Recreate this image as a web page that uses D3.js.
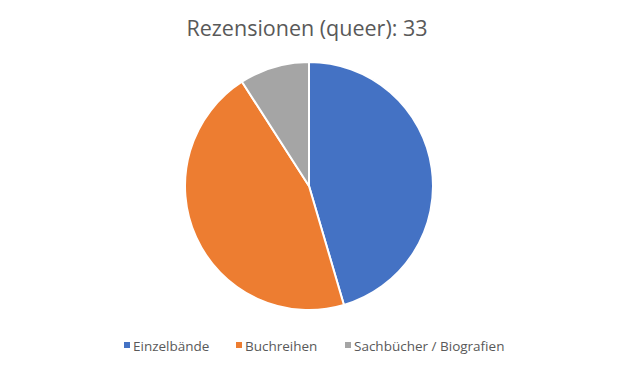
<!DOCTYPE html>
<html><head><meta charset="utf-8">
<script src="https://cdn.jsdelivr.net/npm/d3@7"></script>
<style>body{margin:0;background:#fff}svg{display:block}</style>
</head><body>
<svg id="c" width="617" height="367"></svg>
<script>
const title = "Rezensionen (queer): 33";
const categories = ["Einzelbände", "Buchreihen", "Sachbücher / Biografien"];
const values = [15, 15, 3];
const colors = ["#4472C4", "#ED7D31", "#A5A5A5"];
const legendX = [124, 236, 345];

const svg = d3.select("#c");
const font = "'Open Sans', 'Noto Sans', sans-serif";
svg.append("text").attr("x", 307).attr("y", 36).attr("text-anchor", "middle")
  .attr("font-family", font).attr("font-size", 21.5).attr("fill", "#595959").text(title);

const cx = 309, cy = 186, r = 124;
const pie = d3.pie().sort(null).value(d => d)(values);
const arc = d3.arc().innerRadius(0).outerRadius(r);
svg.append("g").attr("transform", `translate(${cx},${cy})`)
  .selectAll("path").data(pie).join("path")
  .attr("d", arc).attr("fill", (d, i) => colors[i])
  .attr("stroke", "#fff").attr("stroke-width", 2).attr("stroke-linejoin", "round");

const lg = svg.append("g");
categories.forEach((c, i) => {
  lg.append("rect").attr("x", legendX[i]).attr("y", 342).attr("width", 6).attr("height", 6).attr("fill", colors[i]);
  lg.append("text").attr("x", legendX[i] + 9).attr("y", 351)
    .attr("font-family", font).attr("font-size", 13.5).attr("fill", "#595959").text(c);
});
</script>
</body></html>
